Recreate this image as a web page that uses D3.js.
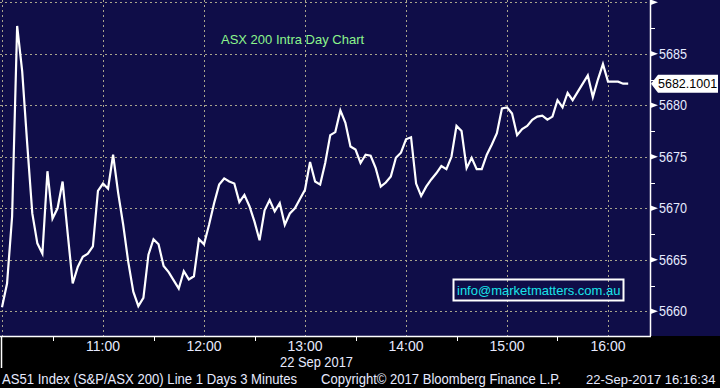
<!DOCTYPE html>
<html>
<head>
<meta charset="utf-8">
<script src="https://cdn.jsdelivr.net/npm/d3@7"></script>
<style>
  body { margin: 0; background: #000; }
  text { font-family: "Liberation Sans", Arial, sans-serif; }
</style>
</head>
<body>
<div id="chart"></div>
<script>
(function(){
    // 3 minute bars, ASX 200, 22 Sep 2017
    const startTime = "2017-09-22T10:00:00";
    const stepMinutes = 3;
    const values = [
        5660.4, 5662.7, 5669.2, 5687.7, 5683.3, 5676.2, 5669.5, 5666.6, 5665.6, 5673.6,
        5669.0, 5670.0, 5672.6, 5667.6, 5662.7, 5664.3, 5665.3, 5665.6, 5666.3, 5671.7,
        5672.4, 5671.9, 5675.2, 5671.5, 5668.4, 5664.8, 5661.9, 5660.5, 5661.3, 5665.5,
        5667.0, 5666.5, 5664.4, 5663.8, 5663.0, 5662.2, 5663.9, 5663.1, 5663.4, 5667.0,
        5666.5, 5668.4, 5670.5, 5672.3, 5672.9, 5672.6, 5672.4, 5670.6, 5671.3, 5670.2,
        5668.7, 5666.9, 5669.8, 5670.8, 5669.7, 5670.5, 5668.4, 5669.5, 5670.0, 5670.9,
        5671.8, 5674.5, 5672.6, 5672.3, 5674.4, 5677.1, 5677.4, 5679.5, 5678.3, 5676.0,
        5675.7, 5674.4, 5675.2, 5675.1, 5673.9, 5672.1, 5672.5, 5673.1, 5674.9, 5675.4,
        5676.7, 5676.9, 5672.4, 5671.2, 5672.1, 5672.8, 5673.4, 5674.1, 5673.8, 5675.0,
        5678.0, 5677.5, 5673.9, 5674.9, 5673.8, 5673.8, 5675.2, 5676.2, 5677.3, 5679.7,
        5679.8, 5679.2, 5677.1, 5677.7, 5678.0, 5678.6, 5678.9, 5679.0, 5678.6, 5678.9,
        5680.5, 5679.8, 5681.2, 5680.5, 5681.3, 5682.1, 5682.9, 5680.8, 5682.5, 5684.0,
        5682.3, 5682.3, 5682.3, 5682.1, 5682.1
    ];
    const lastValue = "5682.1001";
    const majorTicks = [5660, 5665, 5670, 5675, 5680, 5685, 5690];
    const minorTicks = [5662.5, 5667.5, 5672.5, 5677.5, 5682.5, 5687.5];
    const hourLabels = ["11:00", "12:00", "13:00", "14:00", "15:00", "16:00"];

    const parse = d3.timeParse("%Y-%m-%dT%H:%M:%S");
    const t0 = parse(startTime);
    const data = values.map((v, i) => ({ t: d3.timeMinute.offset(t0, i * stepMinutes), v: v }));

    const width = 720, height = 388;
    const plotRight = 650, plotBottom = 336;

    const x = d3.scaleTime()
        .domain([parse("2017-09-22T10:00:00"), parse("2017-09-22T16:00:00")])
        .range([2, 608]);
    const y = d3.scaleLinear()
        .domain([5660, 5690])
        .range([311.3, 2.3]);

    const svg = d3.select("#chart").append("svg")
        .attr("width", width)
        .attr("height", height);

    svg.append("rect").attr("width", width).attr("height", height).attr("fill", "#000");
    svg.append("rect").attr("width", width).attr("height", plotBottom).attr("fill", "#0f0d48");

    const gridColor = "#a8a48c";
    // horizontal grid
    svg.selectAll(".hgrid").data(majorTicks).enter().append("line")
        .attr("x1", 0).attr("x2", plotRight)
        .attr("y1", d => Math.round(y(d)) + 0.5).attr("y2", d => Math.round(y(d)) + 0.5)
        .attr("stroke", gridColor).attr("stroke-dasharray", "2,3");

    // vertical grid at each hour
    const hours = d3.timeHour.range(parse("2017-09-22T10:00:00"), parse("2017-09-22T16:30:00"));
    svg.selectAll(".vgrid").data(hours).enter().append("line")
        .attr("x1", d => Math.round(x(d)) + 0.5).attr("x2", d => Math.round(x(d)) + 0.5)
        .attr("y1", 0).attr("y2", plotBottom)
        .attr("stroke", gridColor).attr("stroke-dasharray", "2,3");

    // title
    svg.append("text")
        .attr("x", 221).attr("y", 44)
        .attr("fill", "#8cf58c")
        .style("font-size", "13px")
        .text("ASX 200 Intra Day Chart");

    // price line
    const line = d3.line().x(d => x(d.t)).y(d => y(d.v));
    svg.append("path")
        .datum(data)
        .attr("d", line)
        .attr("fill", "none")
        .attr("stroke", "#fff")
        .attr("stroke-width", 2.2)
        .attr("stroke-linejoin", "miter");

    // info box
    svg.append("rect")
        .attr("x", 453.5).attr("y", 279.5).attr("width", 170).attr("height", 21)
        .attr("fill", "none").attr("stroke", "#fff").attr("stroke-width", 2);
    svg.append("text")
        .attr("x", 457).attr("y", 295)
        .attr("fill", "#19e3ea")
        .style("font-size", "13px")
        .text("info@marketmatters.com.au");

    // right axis
    const axisColor = "#fff";
    const labelColor = "#e6eaff";
    svg.append("line")
        .attr("x1", plotRight + 0.5).attr("x2", plotRight + 0.5)
        .attr("y1", 0).attr("y2", plotBottom)
        .attr("stroke", axisColor).attr("stroke-width", 1.5);
    svg.selectAll(".minorY").data(minorTicks).enter().append("line")
        .attr("x1", plotRight).attr("x2", plotRight + 5)
        .attr("y1", d => Math.round(y(d)) + 0.5).attr("y2", d => Math.round(y(d)) + 0.5)
        .attr("stroke", axisColor);
    svg.selectAll(".majorY").data(majorTicks).enter().append("path")
        .attr("d", d => {
            const yy = y(d);
            return `M${plotRight},${yy - 3}L${plotRight + 8},${yy}L${plotRight},${yy + 3}Z`;
        })
        .attr("fill", axisColor);
    svg.selectAll(".yLabel").data(majorTicks.filter(d => d < 5690)).enter().append("text")
        .attr("x", 659).attr("y", d => y(d))
        .attr("dy", "0.36em")
        .attr("fill", labelColor)
        .style("font-size", "14px")
        .attr("textLength", 28).attr("lengthAdjust", "spacingAndGlyphs")
        .text(d => d);

    // last value marker
    const ly = y(+lastValue);
    svg.append("path")
        .attr("d", `M651,${ly}L658,${ly - 9}L718,${ly - 9}L718,${ly + 9}L658,${ly + 9}Z`)
        .attr("fill", "#fff");
    svg.append("text")
        .attr("x", 658).attr("y", ly)
        .attr("dy", "0.36em")
        .attr("fill", "#000")
        .style("font-size", "12.5px")
        .text(lastValue);

    // bottom axis
    svg.append("line")
        .attr("x1", 0).attr("x2", plotRight + 1)
        .attr("y1", plotBottom + 0.5).attr("y2", plotBottom + 0.5)
        .attr("stroke", axisColor).attr("stroke-width", 1.5);
    const halfHours = d3.timeMinute.every(30).range(parse("2017-09-22T10:30:00"), parse("2017-09-22T16:30:00"))
        .filter(d => d.getMinutes() === 30);
    svg.selectAll(".xTick").data(halfHours).enter().append("line")
        .attr("x1", d => Math.round(x(d)) + 0.5).attr("x2", d => Math.round(x(d)) + 0.5)
        .attr("y1", plotBottom).attr("y2", plotBottom + 5)
        .attr("stroke", axisColor);
    svg.append("line")
        .attr("x1", 1.5).attr("x2", 1.5)
        .attr("y1", plotBottom).attr("y2", 368)
        .attr("stroke", axisColor).attr("stroke-width", 1.5);

    const timeFmt = d3.timeFormat("%H:%M");
    svg.selectAll(".xLabel").data(hours.filter(d => hourLabels.includes(timeFmt(d)))).enter().append("text")
        .attr("x", d => x(d)).attr("y", 351)
        .attr("text-anchor", "middle")
        .attr("fill", labelColor)
        .style("font-size", "14px")
        .text(d => timeFmt(d));
    svg.append("text")
        .attr("x", 280).attr("y", 367)
        .attr("fill", labelColor)
        .style("font-size", "14px")
        .attr("textLength", 73).attr("lengthAdjust", "spacingAndGlyphs")
        .text("22 Sep 2017");

    // footer
    const footer = [
        { x: 2, w: 295, text: "AS51 Index (S&P/ASX 200) Line 1 Days 3 Minutes" },
        { x: 321, w: 240, text: "Copyright\u00a9 2017 Bloomberg Finance L.P." }
    ];
    svg.selectAll(".footer").data(footer).enter().append("text")
        .attr("x", d => d.x).attr("y", 384)
        .attr("fill", labelColor)
        .style("font-size", "14px")
        .attr("textLength", d => d.w).attr("lengthAdjust", "spacingAndGlyphs")
        .text(d => d.text);
    svg.append("text")
        .attr("x", 586).attr("y", 384)
        .attr("fill", labelColor)
        .style("font-size", "13px")
        .text("22-Sep-2017 16:16:34");
})();
</script>
</body>
</html>
